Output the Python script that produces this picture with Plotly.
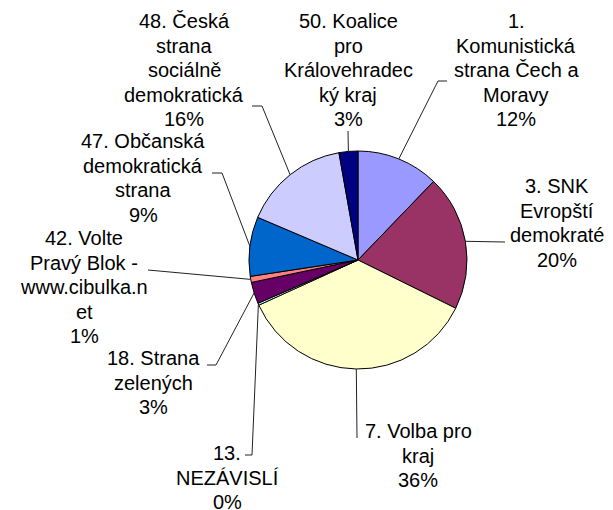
import math
import plotly.graph_objects as go

# ---- data ----
party_lines = [
    ["1.", "Komunistická", "strana Čech a", "Moravy"],
    ["3. SNK", "Evropští", "demokraté"],
    ["7. Volba pro", "kraj"],
    ["13.", "NEZÁVISLÍ"],
    ["18. Strana", "zelených"],
    ["42. Volte", "Pravý Blok -", "www.cibulka.n", "et"],
    ["47. Občanská", "demokratická", "strana"],
    ["48. Česká", "strana", "sociálně", "demokratická"],
    ["50. Koalice", "pro", "Královehradec", "ký kraj"],
]
shares = [12.2, 20.1, 35.9, 0.3, 3.2, 0.9, 8.8, 15.8, 2.8]
colors = ["#9999FF", "#993366", "#FFFFCC", "#CCFFFF", "#660066",
          "#FF8080", "#0066CC", "#CCCCFF", "#000080"]

# ---- layout constants (page pixels) ----
W, H = 613, 510
OFF = 8  # page body margin
CX, CY, R = 358, 260, 109
LINE_H = 24.5
FONT = dict(family="Arial, Liberation Sans, sans-serif", size=20, color="#000000")
label_pos = [(516, 21), (557, 186), (418, 431), (227, 453), (153, 358),
             (84, 238), (143, 141), (184, 21), (348, 21)]
leader_pts = [
    [(447, 81), (438, 81)],
    [(505, 242)],
    [(357, 438)],
    [(245, 455), (252, 455)],
    [(207, 365), (216, 365)],
    [(148, 270)],
    [(212, 173), (222, 173)],
    [(252, 106), (262, 106)],
    [(348, 131)],
]

total = sum(shares)
names = [" ".join(l) for l in party_lines]

fcx, fcy = CX - OFF, CY - OFF  # centre in figure pixels
fig = go.Figure()
fig.add_trace(go.Pie(
    labels=names, values=shares, sort=False, direction="clockwise", rotation=0,
    marker=dict(colors=colors, line=dict(color="#000000", width=1)),
    textinfo="none", hoverinfo="label+percent", showlegend=False,
    domain=dict(x=[(fcx - R) / W, (fcx + R) / W],
                y=[(H - fcy - R) / H, (H - fcy + R) / H]),
))

annotations = []
shapes = []
cum = 0.0
for i, v in enumerate(shares):
    mid = (cum + v / 2) / total * 2 * math.pi
    cum += v
    ex = CX + R * math.sin(mid)
    ey = CY - R * math.cos(mid)
    pts = leader_pts[i] + [(ex, ey)]
    path = "M " + " L ".join(f"{x:.1f},{y:.1f}" for x, y in pts)
    shapes.append(dict(type="path", path=path, xref="x", yref="y",
                       line=dict(color="#222222", width=1)))
    pct = f"{round(v / total * 100)}%"
    lines = party_lines[i] + [pct]
    lx, ly = label_pos[i]
    for k, t in enumerate(lines):
        annotations.append(dict(x=lx, y=ly + k * LINE_H, xref="x", yref="y",
                                text=t, showarrow=False, xanchor="center",
                                yanchor="middle", font=FONT))

fig.update_layout(
    width=W, height=H, margin=dict(l=0, r=0, t=0, b=0),
    paper_bgcolor="#FFFFFF", plot_bgcolor="rgba(0,0,0,0)",
    xaxis=dict(range=[OFF, W + OFF], visible=False, fixedrange=True),
    yaxis=dict(range=[H + OFF, OFF], visible=False, fixedrange=True),
    annotations=annotations, shapes=shapes, showlegend=False,
)
fig.write_html("out.html")
